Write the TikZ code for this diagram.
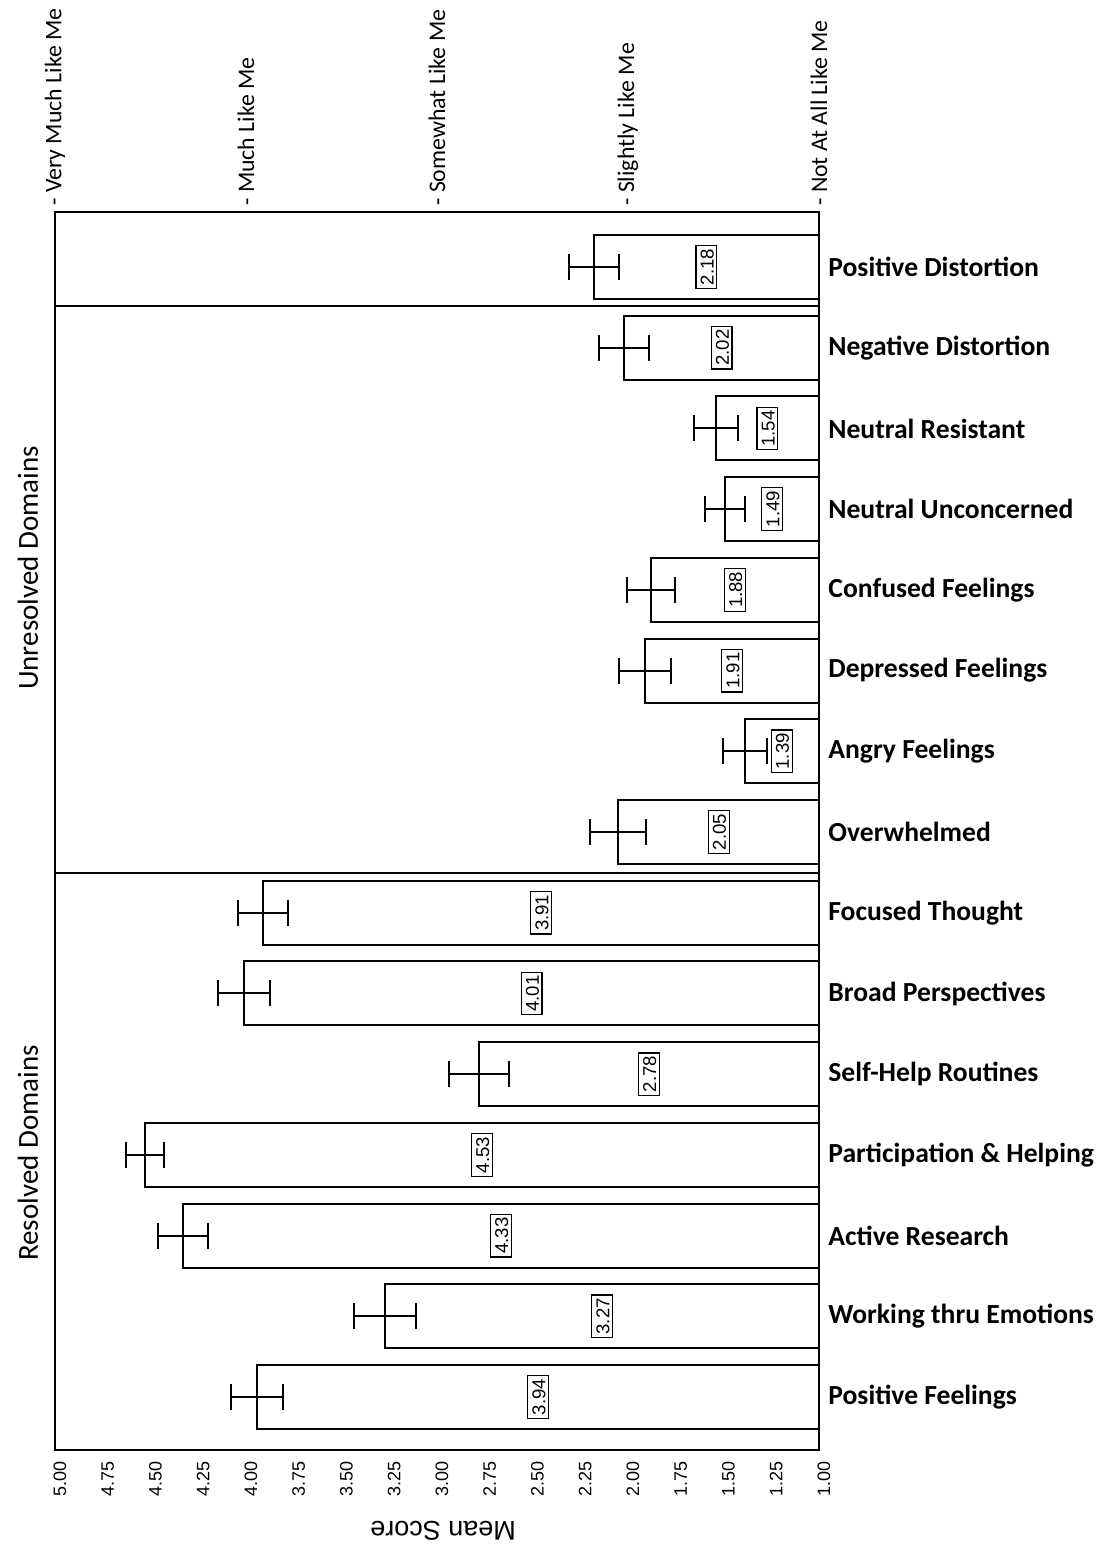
\documentclass[tikz,border=0pt]{standalone}
\usepackage{fontspec}
\setmainfont{Carlito}
\newfontfamily\arialf{Liberation Sans}
\begin{document}
\begin{tikzpicture}[x=0.5pt,y=-0.5pt,
  framestyle/.style={line width=1pt},
  barstyle/.style={line width=1pt,fill=white},
  errstyle/.style={line width=1pt},
  valbox/.style={draw,line width=0.6pt,rotate=90,inner sep=1.6pt,font=\arialf\fontsize{9.3}{10}\selectfont,text height=0.72em,text depth=0pt},
  catlabel/.style={anchor=west,font=\bfseries\fontsize{13.8}{15}\selectfont,inner sep=0pt},
  toplabel/.style={anchor=west,rotate=90,font=\fontsize{11.9}{13}\selectfont,inner sep=0pt},
  ticklabel/.style={anchor=east,rotate=90,font=\arialf\fontsize{9}{10}\selectfont,inner sep=0pt},
  sidelabel/.style={rotate=90,font=\fontsize{14.5}{16}\selectfont,inner sep=0pt}]
\useasboundingbox (0,0) rectangle (1103,1549);
% frame
\draw[framestyle] (55,212) rectangle (819,1450);
% group separators
\draw[framestyle] (55,306) -- (819,306);
\draw[framestyle] (55,873) -- (819,873);
% bars
\foreach \i/\v/\e/\t in {0/2.18/25/Positive Distortion,1/2.02/25/Negative Distortion,2/1.54/22/Neutral Resistant,3/1.49/20/Neutral Unconcerned,4/1.88/24/Confused Feelings,5/1.91/26/Depressed Feelings,6/1.39/22/Angry Feelings,7/2.05/28/Overwhelmed,8/3.91/25/Focused Thought,9/4.01/26/Broad Perspectives,10/2.78/30/Self-Help Routines,11/4.53/19/Participation \& Helping,12/4.33/25/Active Research,13/3.27/31/Working thru Emotions,14/3.94/26/Positive Feelings}{
  \pgfmathsetmacro\yc{267+80.72*\i}
  \pgfmathsetmacro\xl{55+(5-\v)*191}
  \draw[barstyle] (\xl,\yc-32) rectangle (819,\yc+32);
  \draw[errstyle] (\xl-\e,\yc) -- (\xl+\e,\yc);
  \draw[errstyle] (\xl-\e,\yc-13) -- (\xl-\e,\yc+13);
  \draw[errstyle] (\xl+\e,\yc-13) -- (\xl+\e,\yc+13);
  \node[valbox] (v\i) at ({(\xl+819)/2},\yc) {\v};
  \node[catlabel] (c\i) at (828,\yc) {\t};
}
% top scale labels
\foreach \v/\t [count=\k] in {5/Very Much Like Me,4/Much Like Me,3/Somewhat Like Me,2/Slightly Like Me,1/Not At All Like Me}{
  \node[toplabel] (t\k) at ({55+(5-\v)*191},206) {- \t};
}
% bottom tick labels
\foreach \v/\t [count=\k] in {5/5.00,4.75/4.75,4.5/4.50,4.25/4.25,4/4.00,3.75/3.75,3.5/3.50,3.25/3.25,3/3.00,2.75/2.75,2.5/2.50,2.25/2.25,2/2.00,1.75/1.75,1.5/1.50,1.25/1.25,1/1.00}{
  \node[ticklabel] (b\k) at ({60+(5-\v)*191},1461) {\t};
}
\node[rotate=180,font=\arialf\fontsize{13.5}{15}\selectfont] (meanscore) at (443,1531) {Mean Score};
\node[sidelabel] (unres) at (28,568) {Unresolved Domains};
\node[sidelabel] (res) at (28,1153) {Resolved Domains};
\end{tikzpicture}
\end{document}
